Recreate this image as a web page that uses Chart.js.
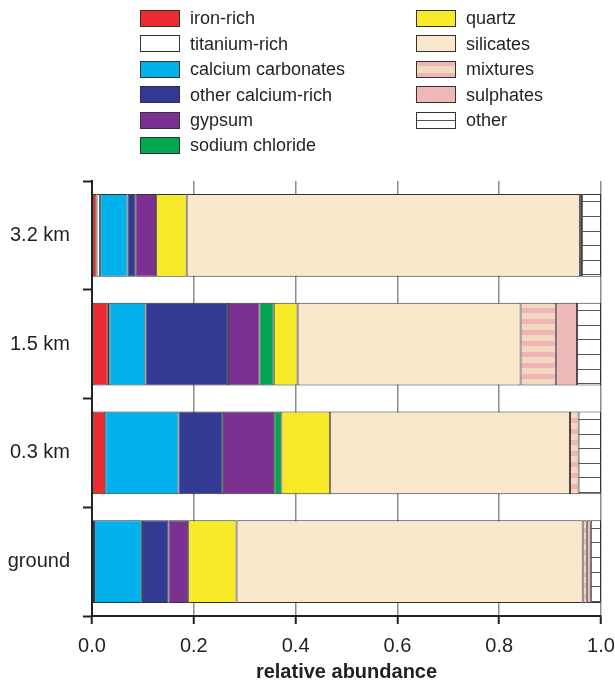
<!DOCTYPE html>
<html lang="en">
<head>
    <meta charset="UTF-8">
    <title>Relative abundance of particle classes by altitude</title>
    <script src="https://cdn.jsdelivr.net/npm/chart.js"></script>
    <style>
        html, body { margin: 0; padding: 0; background: #ffffff; }
        .chart-box { position: relative; width: 615px; height: 682px; }
    </style>
</head>
<body>
    <div class="chart-box">
        <canvas id="abundanceChart"></canvas>
    </div>

    <script>
        // Altitudes (top to bottom) and particle classes
        const altitudes = ['3.2 km', '1.5 km', '0.3 km', 'ground'];
        const classNames = ['iron-rich', 'titanium-rich', 'calcium carbonates', 'other calcium-rich',
            'gypsum', 'sodium chloride', 'quartz', 'silicates', 'mixtures', 'sulphates', 'other'];

        // Relative abundance per class, one value per altitude
        const ironRich      = [0.009, 0.031, 0.026, 0.004];
        const titaniumRich  = [0.007, 0.003, 0.000, 0.000];
        const calcCarb      = [0.054, 0.071, 0.144, 0.094];
        const otherCalcium  = [0.015, 0.162, 0.087, 0.052];
        const gypsum        = [0.041, 0.062, 0.101, 0.039];
        const sodiumChlor   = [0.000, 0.028, 0.014, 0.000];
        const quartz        = [0.060, 0.047, 0.096, 0.095];
        const silicates     = [0.773, 0.438, 0.471, 0.680];
        const mixtures      = [0.004, 0.070, 0.017, 0.008];
        const sulphates     = [0.000, 0.041, 0.000, 0.008];
        const otherClass    = [0.037, 0.047, 0.044, 0.020];

        const xTicks = [0, 0.2, 0.4, 0.6, 0.8, 1.0];

        const seriesValues = [ironRich, titaniumRich, calcCarb, otherCalcium, gypsum,
            sodiumChlor, quartz, silicates, mixtures, sulphates, otherClass];

        const FONT = '"Liberation Sans", Arial, Helvetica, sans-serif';
        const TEXT = '#231f20';
        const EDGE = '#333333';

        // striped fill used for "mixtures"
        function makeStripes() {
            const c = document.createElement('canvas');
            c.width = 4; c.height = 11;
            const g = c.getContext('2d');
            g.fillStyle = '#f2d9bd';
            g.fillRect(0, 0, 4, 11);
            g.fillStyle = '#f1b5b9';
            g.fillRect(0, 0, 4, 5);
            return g.createPattern(c, 'repeat');
        }

        const fills = ['#ed2a2f', '#ffffff', '#00b1eb', '#323a93', '#7a3191', '#00a650',
            '#f6ea29', '#f9e8cc', makeStripes(), '#f0b7b9', '#ffffff'];

        // horizontal rules inside the "other" segments
        const otherLines = {
            id: 'otherLines',
            afterDatasetsDraw(chart) {
                const idx = classNames.indexOf('other');
                const meta = chart.getDatasetMeta(idx);
                const ctx = chart.ctx;
                ctx.save();
                ctx.strokeStyle = '#555555';
                ctx.lineWidth = 1;
                meta.data.forEach(bar => {
                    const p = bar.getProps(['x', 'y', 'base', 'height'], true);
                    const left = Math.min(p.x, p.base), right = Math.max(p.x, p.base);
                    const top = p.y - p.height / 2, bottom = p.y + p.height / 2;
                    ctx.beginPath();
                    for (let y = top + 7.4; y < bottom - 1; y += 14.6) {
                        const yy = Math.round(y) + 0.5;
                        ctx.moveTo(left, yy);
                        ctx.lineTo(right, yy);
                    }
                    ctx.stroke();
                });
                ctx.restore();
            }
        };

        // two-column legend above the plot
        const columnLegend = {
            id: 'columnLegend',
            afterDraw(chart) {
                const ctx = chart.ctx;
                ctx.save();
                ctx.font = '18px ' + FONT;
                ctx.textBaseline = 'middle';
                classNames.forEach((name, i) => {
                    const col = i < 6 ? 0 : 1;
                    const row = col ? i - 6 : i;
                    const bx = col ? 416 : 140;
                    const cy = 18.5 + row * 25.4;
                    const top = Math.round(cy - 8.5);
                    if (name === 'mixtures') {
                        ctx.fillStyle = '#f1b5b9';
                        ctx.fillRect(bx, top, 40, 17);
                        ctx.fillStyle = '#f2d9bd';
                        ctx.fillRect(bx, top + 5, 40, 7);
                    } else {
                        ctx.fillStyle = fills[i];
                        ctx.fillRect(bx, top, 40, 17);
                    }
                    if (name === 'other') {
                        ctx.strokeStyle = '#555555';
                        ctx.lineWidth = 1;
                        ctx.beginPath();
                        ctx.moveTo(bx, top + 8.5);
                        ctx.lineTo(bx + 40, top + 8.5);
                        ctx.stroke();
                    }
                    ctx.strokeStyle = EDGE;
                    ctx.lineWidth = 1;
                    ctx.strokeRect(bx + 0.5, top + 0.5, 39, 16);
                    ctx.fillStyle = TEXT;
                    ctx.fillText(name, bx + 50, cy + 1);
                });
                ctx.restore();
            }
        };

        function initializeAbundanceChart() {
            const ctx = document.getElementById('abundanceChart').getContext('2d');
            new Chart(ctx, {
                type: 'bar',
                data: {
                    labels: altitudes,
                    datasets: classNames.map((name, i) => ({
                        label: name,
                        data: seriesValues[i],
                        backgroundColor: fills[i],
                        borderColor: EDGE,
                        borderWidth: 1,
                        borderSkipped: false,
                        categoryPercentage: 1.0,
                        barPercentage: 0.76
                    }))
                },
                options: {
                    indexAxis: 'y',
                    responsive: true,
                    maintainAspectRatio: false,
                    animation: false,
                    layout: {
                        padding: { top: 181, right: 14, left: 0, bottom: 0 }
                    },
                    plugins: {
                        legend: { display: false },
                        tooltip: { enabled: false }
                    },
                    scales: {
                        x: {
                            stacked: true,
                            min: 0,
                            max: 1,
                            afterFit(scale) {
                                scale.height = 66;
                                scale.paddingLeft = 0;
                                scale.paddingRight = 0;
                            },
                            afterBuildTicks(scale) {
                                scale.ticks = xTicks.map(v => ({ value: v }));
                            },
                            grid: {
                                color: '#8c8c8c',
                                lineWidth: 1.5,
                                tickColor: '#222222',
                                tickWidth: 2,
                                tickLength: 8
                            },
                            border: { color: '#222222', width: 2 },
                            ticks: {
                                color: TEXT,
                                padding: 10,
                                font: { family: FONT, size: 20 },
                                callback: v => Number(v).toFixed(1)
                            },
                            title: {
                                display: true,
                                text: 'relative abundance',
                                color: TEXT,
                                font: { family: FONT, size: 20, weight: 'bold', lineHeight: 1.0 },
                                padding: { top: 4, bottom: 0 }
                            }
                        },
                        y: {
                            stacked: true,
                            afterFit(scale) { scale.width = 92; },
                            grid: {
                                offset: true,
                                drawOnChartArea: false,
                                tickColor: '#222222',
                                tickWidth: 2,
                                tickLength: 9
                            },
                            border: { color: '#222222', width: 2 },
                            ticks: {
                                color: TEXT,
                                padding: 13,
                                font: { family: FONT, size: 20 }
                            }
                        }
                    }
                },
                plugins: [otherLines, columnLegend]
            });
        }

        initializeAbundanceChart();
    </script>
</body>
</html>
